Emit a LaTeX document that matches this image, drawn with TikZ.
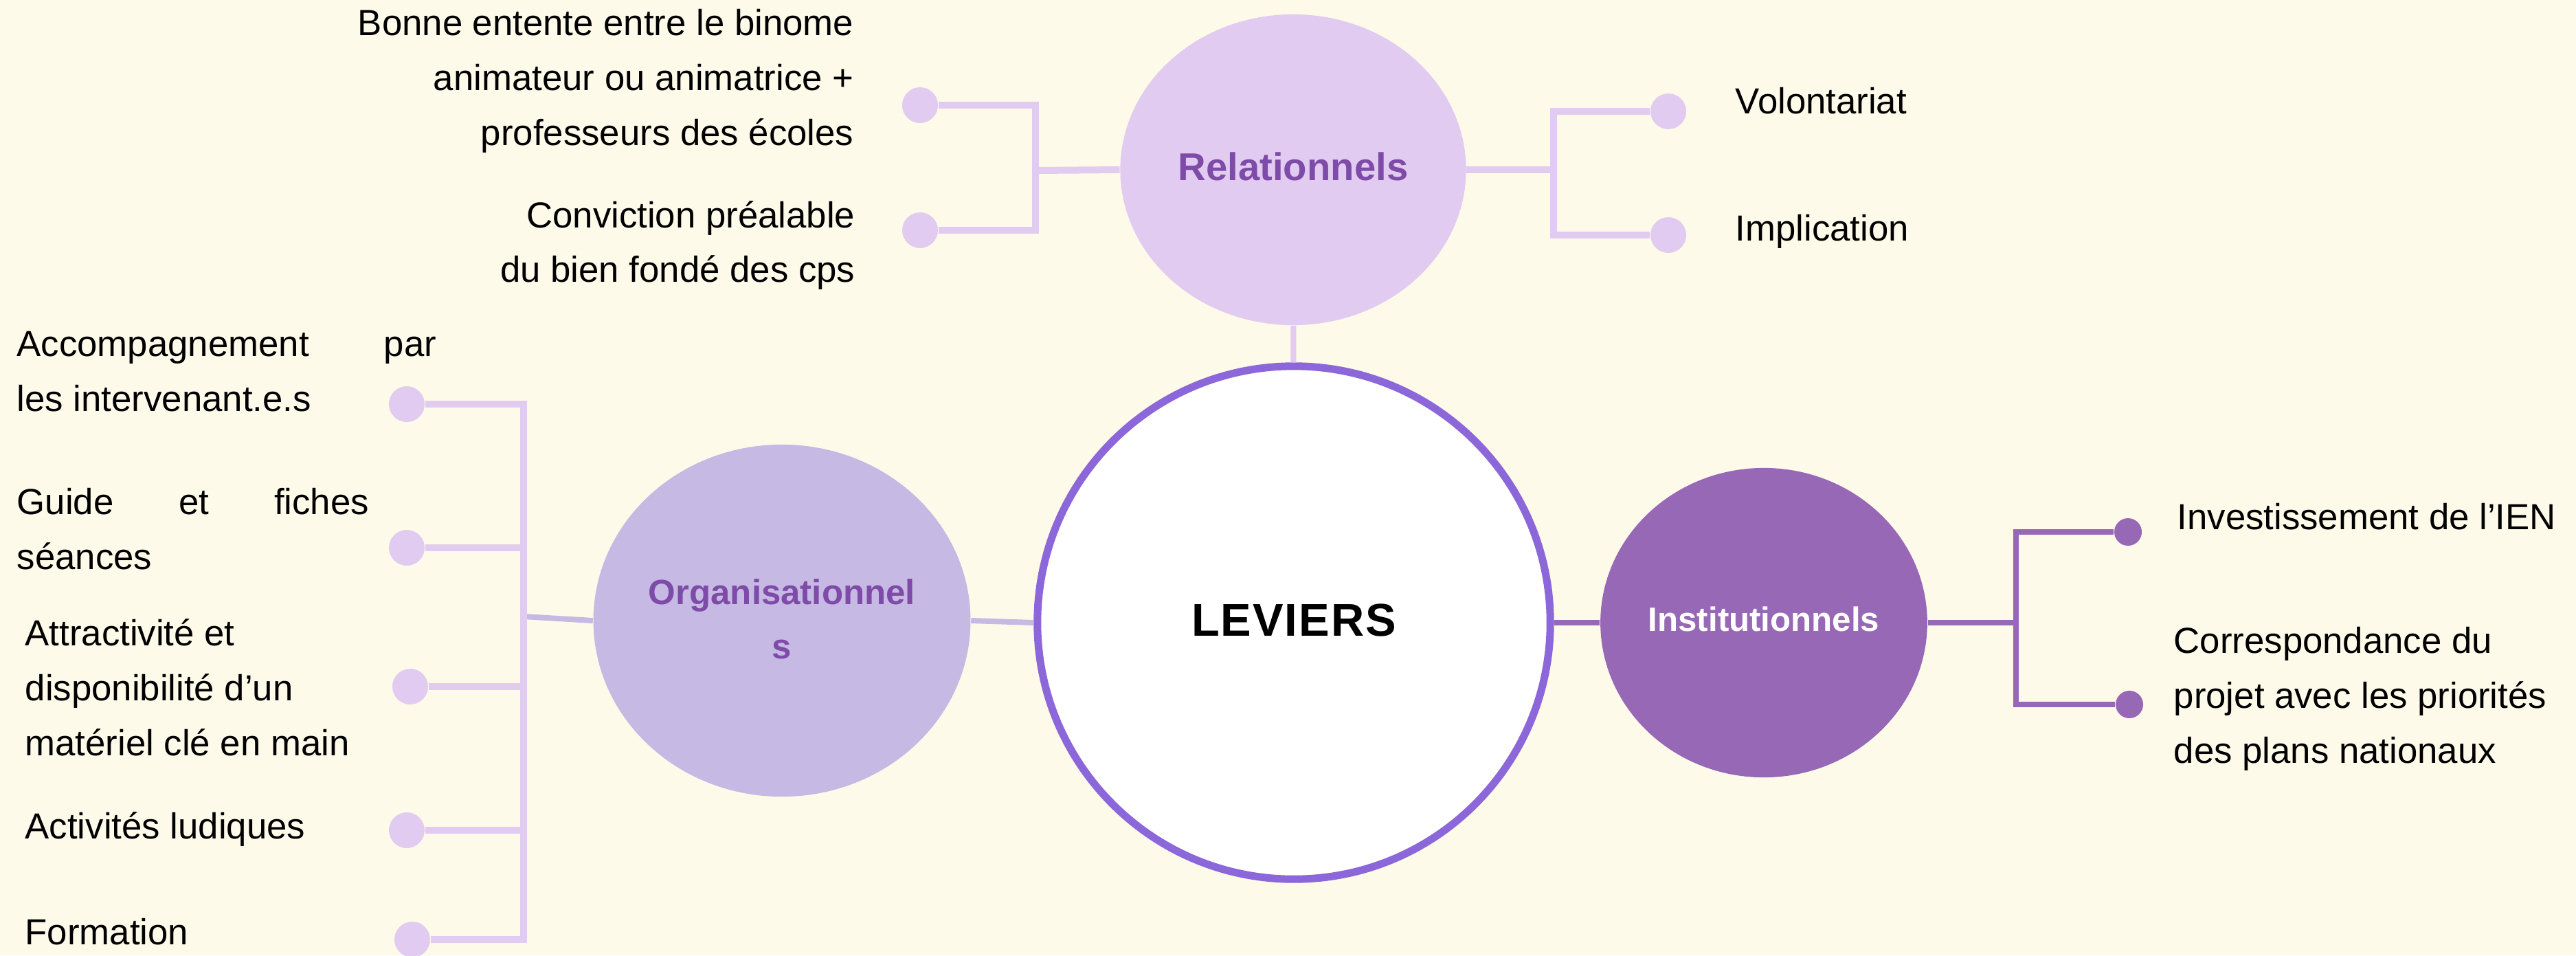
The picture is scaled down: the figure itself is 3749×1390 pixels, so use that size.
\documentclass[tikz,border=0pt]{standalone}
\usepackage{fontspec}
\setmainfont{Liberation Sans}
\newfontfamily\spacedfont[LetterSpace=3]{Liberation Sans}
\usetikzlibrary{shapes.geometric}

\definecolor{creme}{HTML}{FEFAEA}
\definecolor{lilas}{HTML}{E2CBF0}
\definecolor{mauve}{HTML}{C6B9E4}
\definecolor{prune}{HTML}{9768B6}
\definecolor{violet}{HTML}{8C67D9}
\definecolor{titre}{HTML}{7E4BA8}

\tikzset{
  txt/.style={inner sep=0pt, font=\fontsize{15}{22.7}\selectfont},
  bulle/.style={ellipse, inner sep=0pt, font=\bfseries},
  dotrel/.style={circle, fill=lilas, inner sep=0pt, minimum size=0.52cm},
  dotinst/.style={circle, fill=prune, inner sep=0pt, minimum size=0.4cm},
  relline/.style={draw=lilas, line width=0.1cm},
  orgline/.style={draw=mauve, line width=0.08cm},
  instline/.style={draw=prune, line width=0.08cm}
}

\begin{document}
\begin{tikzpicture}[x=0.01cm, y=-0.01cm]
  \fill[creme] (0,0) rectangle (3749,1390);
  \useasboundingbox (0,0) rectangle (3749,1390);

  % the four bubbles
  \node[bulle, fill=lilas, minimum width=5.03cm, minimum height=4.52cm,
        text=titre, font=\bfseries\fontsize{16}{19}\selectfont] (rel) at (1882,247)
        {\raisebox{0.1cm}{Relationnels}};
  \node[bulle, fill=mauve, minimum width=5.2cm, minimum height=5.12cm,
        text=titre, font=\bfseries\fontsize{14.5}{22.7}\selectfont] (org) at (1138,903)
        {\raisebox{0.12cm}{\begin{tabular}{@{}c@{}}Organisationnel\\s\end{tabular}}};
  \node[bulle, fill=prune, minimum width=4.48cm, minimum height=4.5cm,
        text=white, font=\bfseries\fontsize{14}{17}\selectfont] (inst) at (2567,906)
        {\raisebox{0.1cm}{Institutionnels}};
  \node[circle, draw=violet, line width=0.11cm, fill=white, minimum size=7.46cm, inner sep=0pt,
        font=\spacedfont\bfseries\fontsize{19}{23}\selectfont] (lev) at (1883,906)
        {\raisebox{0.08cm}{LEVIERS}};

  \draw[relline, line width=0.08cm] (rel) -- (lev);
  \draw[orgline] (org.east) -- (lev.west);
  \draw[instline] (lev.east) -- (inst.west);

  % relationnels
  \coordinate (rj) at (1507,248);
  \coordinate (rk) at (2261,247);
  \node[dotrel] (r1) at (1339,153) {};
  \node[dotrel] (r2) at (1339,335) {};
  \node[dotrel] (v1) at (2428,162) {};
  \node[dotrel] (v2) at (2428,342) {};
  \draw[relline] (rel.west) -- (rj);
  \draw[relline] (r1) -| (rj) |- (r2);
  \draw[relline] (rel.east) -- (rk);
  \draw[relline] (v1) -| (rk) |- (v2);

  \node[txt, anchor=east, align=right] (t1) at (1243,118)
    {Bonne entente entre le binome\\animateur ou animatrice +\\professeurs des écoles};
  \node[txt, anchor=east, align=right] (t2) at (1245,357)
    {Conviction préalable\\du bien fondé des cps};
  \node[txt, anchor=west] (t3) at (2525,147) {Volontariat};
  \node[txt, anchor=west] (t4) at (2525,337) {Implication};

  % organisationnels
  \coordinate (oj) at (762,897);
  \node[dotrel] (o1) at (592,588) {};
  \node[dotrel] (o2) at (592,797) {};
  \node[dotrel] (o3) at (597,999) {};
  \node[dotrel] (o4) at (592,1208) {};
  \node[dotrel] (o5) at (600,1367) {};
  \draw[orgline] (org.west) -- (oj);
  \draw[relline] (o1) -| (oj) |- (o5);
  \foreach \d in {o2,o3,o4}
    \draw[relline] (\d) -- (\d -| oj);

  \node[txt, anchor=west, align=left] (t5) at (24,541)
    {\makebox[6.1cm][s]{Accompagnement par}\\les intervenant.e.s};
  \node[txt, anchor=west, align=left] (t6) at (24,770)
    {\makebox[5.12cm][s]{Guide et fiches}\\séances};
  \node[txt, anchor=west, align=left] (t7) at (36,1000)
    {Attractivité et\\disponibilité d’un\\matériel clé en main};
  \node[txt, anchor=west] (t8) at (36,1207) {Activités ludiques};
  \node[txt, anchor=west] (t9) at (36,1356) {Formation};

  % institutionnels
  \coordinate (ij) at (2934,906);
  \node[dotinst] (i1) at (3097,774) {};
  \node[dotinst] (i2) at (3099,1025) {};
  \draw[instline] (inst.east) -- (ij);
  \draw[instline] (i1) -| (ij) |- (i2);

  \node[txt, anchor=west] (t10) at (3168,752) {Investissement de l’IEN};
  \node[txt, anchor=west, align=left] (t11) at (3163,1017)
    {Correspondance du\\projet avec les priorités\\des plans nationaux};
\end{tikzpicture}
\end{document}
